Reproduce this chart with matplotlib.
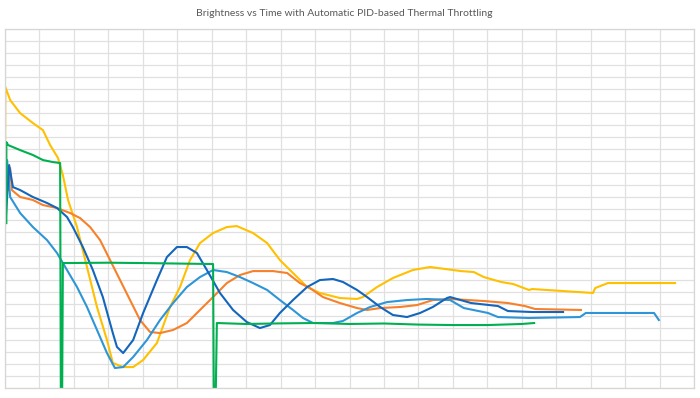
import matplotlib
matplotlib.use("Agg")
from matplotlib import pyplot as plt

# readings from the chart (time in grid columns, brightness in grid rows)
yellow_t = [0, 0.01, 0.15, 0.44, 0.81, 1.10, 1.31, 1.54, 1.68, 1.83, 2.09, 2.38, 2.67, 2.96, 3.13,
            3.43, 3.72, 4.01, 4.41, 4.79, 5.08, 5.37, 5.66, 6.04, 6.44, 6.73, 7.20, 7.61, 7.98, 8.36,
            8.77, 9.14, 9.72, 10.22, 10.39, 10.80, 11.26, 11.84, 12.34, 13.24, 13.61, 13.90, 14.40,
            14.75, 15.21, 15.30, 17.07, 17.13, 17.50, 19.45]
yellow_b = [17.8, 25.15, 24.06, 22.97, 22.14, 21.55, 20.30, 19.21, 17.79, 15.71, 13.45, 10.11, 6.77,
            4.01, 2.09, 1.75, 1.75, 2.34, 3.76, 6.77, 8.44, 10.69, 12.11, 12.95, 13.45, 13.53, 12.95,
            12.11, 10.69, 9.61, 8.44, 7.94, 7.52, 7.44, 7.60, 8.44, 9.19, 9.86, 10.11, 9.77, 9.69,
            9.27, 8.86, 8.69, 8.19, 8.27, 7.94, 8.35, 8.77, 8.77]

green_t = [0.04, 0.04, 0.09, 0.44, 0.81, 1.10, 1.39, 1.60, 1.62, 1.66, 1.68, 3.0, 4.0, 5.0, 6.04,
           6.06, 6.12, 6.15, 7.0, 8.0, 9.0, 10.0, 11.0, 12.0, 13.0, 14.0, 15.0, 15.36]
green_b = [13.78, 20.55, 20.30, 19.88, 19.47, 19.05, 18.88, 18.80, 0, 0, 10.44, 10.47, 10.44, 10.40,
           10.36, 0, 0, 5.43, 5.35, 5.40, 5.43, 5.35, 5.39, 5.30, 5.26, 5.26, 5.35, 5.43]

orange_t = [0.09, 0.15, 0.20, 0.44, 0.81, 1.10, 1.51, 1.89, 2.18, 2.47, 2.76, 3.05, 3.34, 3.63, 3.92,
            4.21, 4.50, 4.88, 5.28, 5.66, 6.04, 6.44, 6.82, 7.20, 7.78, 8.19, 8.56, 8.85, 9.23, 9.72,
            10.22, 10.51, 10.89, 11.47, 11.96, 12.42, 12.92, 13.90, 14.60, 15.09, 15.39, 16.72]
orange_b = [16.54, 18.38, 16.54, 15.96, 15.71, 15.29, 15.04, 14.62, 14.20, 13.45, 12.36, 10.69, 9.02,
            7.35, 5.68, 4.68, 4.59, 4.85, 5.43, 6.52, 7.60, 8.77, 9.44, 9.77, 9.77, 9.61, 8.77, 8.35,
            7.60, 7.10, 6.68, 6.52, 6.68, 6.77, 6.93, 7.35, 7.44, 7.27, 7.10, 6.85, 6.60, 6.52]

dblue_t = [0.03, 0.12, 0.23, 0.44, 0.81, 1.22, 1.51, 1.80, 1.97, 2.26, 2.55, 2.84, 3.13, 3.25, 3.43,
           3.72, 4.01, 4.41, 4.70, 4.99, 5.28, 5.57, 5.86, 6.24, 6.62, 7.02, 7.40, 7.69, 7.98, 8.36,
           8.77, 9.14, 9.52, 9.81, 10.22, 10.51, 10.89, 11.26, 11.67, 12.05, 12.42, 12.83, 12.92,
           13.53, 14.31, 14.60, 15.30, 16.20]
dblue_b = [14.45, 18.63, 16.79, 16.54, 15.96, 15.46, 15.04, 14.29, 13.45, 11.78, 9.86, 7.60, 4.59,
           3.43, 2.92, 4.01, 6.27, 9.02, 10.94, 11.78, 11.78, 11.28, 9.86, 7.94, 6.52, 5.51, 5.01,
           5.26, 6.27, 7.35, 8.44, 9.02, 9.11, 8.86, 8.19, 7.60, 6.77, 6.10, 5.93, 6.27, 6.77, 7.52,
           7.60, 7.10, 6.85, 6.43, 6.35, 6.35]

lblue_t = [0, 0.06, 0.15, 0.44, 0.81, 1.22, 1.51, 1.80, 2.09, 2.38, 2.67, 2.96, 3.19, 3.43, 3.72,
           4.12, 4.50, 4.88, 5.28, 5.66, 6.04, 6.44, 6.82, 7.20, 7.61, 7.98, 8.36, 8.65, 8.94, 9.52,
           9.81, 10.22, 10.60, 11.09, 11.67, 12.25, 12.92, 13.32, 14.02, 14.31, 15.21, 16.69, 16.86,
           17.85, 18.84, 18.98]
lblue_b = [13.62, 19.05, 15.96, 14.62, 13.45, 12.36, 11.28, 9.86, 8.44, 6.77, 4.85, 2.92, 1.67, 1.75,
           2.59, 4.01, 5.68, 7.10, 8.44, 9.27, 9.86, 9.69, 9.27, 8.77, 8.19, 7.35, 6.52, 5.85, 5.43,
           5.43, 5.60, 6.27, 6.77, 7.18, 7.35, 7.44, 7.35, 6.68, 6.27, 5.93, 5.85, 5.93, 6.27, 6.27,
           6.27, 5.68]

title = "Brightness vs Time with Automatic PID-based Thermal Throttling"

fig = plt.figure(figsize=(7, 3.98), dpi=100)
ax = fig.add_axes([5 / 700, 10 / 398, 689 / 700, 359 / 398])

lw = 1.5
ax.plot(yellow_t, yellow_b, color="#FFC000", lw=lw)
ax.plot(orange_t, orange_b, color="#F7802A", lw=lw)
ax.plot(lblue_t, lblue_b, color="#2E95D6", lw=lw)
ax.plot(dblue_t, dblue_b, color="#1466BC", lw=lw)
ax.plot(green_t, green_b, color="#00B050", lw=lw)

ax.set_xlim(0, 20)
ax.set_ylim(0, 30)
ax.set_xticks(range(0, 21))
ax.set_yticks(range(0, 31))
ax.grid(True, color="#E0E0E0", lw=0.9)
ax.set_axisbelow(True)
ax.tick_params(length=0, labelleft=False, labelbottom=False)
for s in ax.spines.values():
    s.set_color("#D6D6D6")
    s.set_linewidth(0.9)

fig.text(344 / 700, 1 - 13 / 398, title, ha="center", va="center",
         fontsize=7.5, color="#595959", family="Lato")

fig.savefig("out.png", dpi=100)
